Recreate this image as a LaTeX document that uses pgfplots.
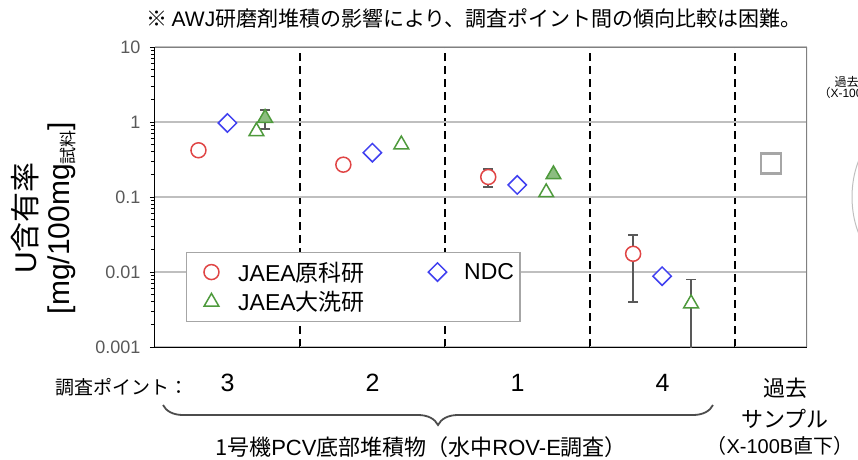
\documentclass[border=0pt]{standalone}
\usepackage{pgfplots}
\pgfplotsset{compat=1.18}
\usepackage{fontspec}
\setmainfont{Noto Sans CJK JP}
\newfontfamily\lat{Liberation Sans}
\usetikzlibrary{decorations.pathreplacing}
\definecolor{cred}{HTML}{E04545}
\definecolor{cblue}{HTML}{4040F0}
\definecolor{cgreen}{HTML}{4E9A3C}
\definecolor{cgrid}{HTML}{BFBFBF}
\definecolor{ctick}{HTML}{595959}
\definecolor{cerr}{HTML}{595959}
\newcommand\fs[1]{\fontsize{#1}{#1}\selectfont}
\pgfplotsset{myleg/.style={legend image code/.code={\path (0pt,0pt) (44pt,0pt);\draw[mark repeat=2,mark phase=2,##1] plot coordinates {(0pt,0pt)(20pt,0pt)(44pt,0pt)};}}}
\begin{document}
\begin{tikzpicture}[x=1pt,y=1pt]
\begin{axis}[
  at={(0pt,0pt)}, anchor=south west, scale only axis, width=652pt, height=300pt,
  xmin=0, xmax=4.5, ymode=log, ymin=0.001, ymax=10,
  axis x line*=bottom, axis y line*=left,
  axis line style={black, line width=1pt},
  xtick={1,2,3,4}, xticklabels={},
  ytick={0.001,0.01,0.1,1,10}, yticklabels={0.001,0.01,0.1,1,10},
  xtick align=inside, ytick align=outside,
  major tick length=5pt, minor tick length=4pt,
  every tick/.style={black, line width=0.8pt},
  yticklabel style={font=\lat\fs{18}, text=ctick, xshift=-6pt},
  xmajorgrids, ymajorgrids,
  major x grid style={black, line width=2pt, dash pattern=on 8pt off 5pt},
  major y grid style={cgrid, line width=2pt},
  legend columns=2,
  legend cell align=left,
  legend style={at={(0.0475,0.317)}, anchor=north west, draw=gray!70, line width=1.5pt,
    font=\fs{23}, inner xsep=4pt, inner ysep=7pt, row sep=5pt,
    /tikz/every even column/.append style={column sep=50pt}},
]
\addplot[forget plot, only marks, mark=none,
  error bars/.cd, y dir=both, y explicit,
  error bar style={cerr, line width=1.5pt},
  error mark options={cerr, line width=1.5pt, mark size=5pt, rotate=90}]
  coordinates {
  (0.76,1.13) +- (0,0.32)
  (2.3,0.185) +- (0,0.05)
  (3.3,0.0175) +- (0,0.0135)
  (3.7,0.0038) += (0,0.0042) -= (0,0.00379)
};
\addplot[only marks, myleg, mark=*, mark size=7.5pt, mark options={draw=cred, fill=white, line width=1.5pt}]
  coordinates {(0.3,0.42) (1.3,0.27) (2.3,0.185) (3.3,0.0175)};
\addlegendentry{\lat JAEA\rmfamily 原科研}
\addplot[only marks, myleg, mark=square*, mark size=6.5pt, mark options={rotate=45, draw=cblue, fill=white, line width=1.5pt}]
  coordinates {(0.5,0.97) (1.5,0.39) (2.5,0.145) (3.5,0.0088)};
\addlegendentry{\lat NDC}
\addplot[only marks, myleg, mark=triangle*, mark size=8.5pt, mark options={draw=cgreen, fill=white, line width=1.5pt}]
  coordinates {(0.7,0.75) (1.7,0.50) (2.7,0.115) (3.7,0.0038)};
\addlegendentry{\lat JAEA\rmfamily 大洗研}
\addplot[forget plot, only marks, mark=triangle*, mark size=8.5pt, mark options={draw=cgreen, fill=cgreen!65, line width=1.5pt}]
  coordinates {(0.76,1.13) (2.75,0.2)};
\addplot[forget plot, only marks, mark=square*, mark size=10pt, mark options={draw=gray!70, fill=white, line width=2.5pt}]
  coordinates {(4.25,0.28)};
\draw[gray, line width=2.5pt] (rel axis cs:0,1) -- (rel axis cs:1,1) -- (rel axis cs:1,0);
\end{axis}
% annotations (pt relative to the axis box's lower left corner)
\node[font=\fs{21}] at (319,329) {※ \lat AWJ\rmfamily 研磨剤堆積の影響により、調査ポイント間の傾向比較は困難。};
\node[rotate=90, font=\fs{30}] at (-130,129) {{\lat U}含有率};
\node[rotate=90, font=\lat\fs{30}] at (-93,129) {[mg/100mg\raisebox{-5pt}{\rmfamily\fs{17}試料}]};
\node[font=\fs{19}] at (-33,-40) {調査ポイント：};
\foreach \x/\t in {72.5/3,217.5/2,362.5/1,507.5/4} \node[font=\lat\fs{25}] at (\x,-36) {\t};
\draw[decorate, decoration={brace, mirror, amplitude=20pt}, line width=1.8pt, color=black!70] (8,-58) -- (558,-58);
\node[font=\fs{22}] at (266,-100) {1号機\lat PCV\rmfamily 底部堆積物（水中\lat ROV-E\rmfamily 調査）};
\node[font=\fs{22}] at (630,-41) {過去};
\node[font=\fs{22}] at (630,-72) {サンプル};
\node[font=\fs{20}, anchor=west] at (548,-99) {（\lat X-100B\rmfamily 直下）};
\node[font=\fs{12}, anchor=west] at (676,265) {過去サンプル};
\node[font=\fs{12}, anchor=west] at (660,254) {（\lat X-100B\rmfamily 直下）};
\draw[gray!50, line width=1pt] (750,150) ellipse [x radius=53pt, y radius=75pt];
\pgfresetboundingbox
\path[use as bounding box] (-155,-112) rectangle (703,347);
\end{tikzpicture}
\end{document}
